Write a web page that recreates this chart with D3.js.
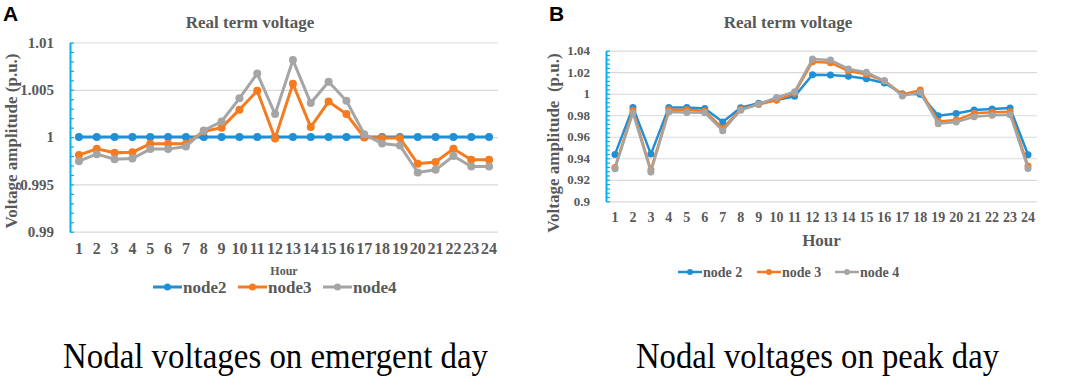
<!DOCTYPE html>
<html>
<head>
<meta charset="utf-8">
<script src="https://cdn.jsdelivr.net/npm/d3@7"></script>
<style>
  body { margin: 0; background: #fff; }
  svg { display: block; }
</style>
</head>
<body>
<svg id="chart" width="1065" height="387"></svg>
<script>
// hours on the x axis
let hours = d3.range(1, 25)

// emergent day (panel A)
let emergentNode2 = [1, 1, 1, 1, 1, 1, 1, 1, 1, 1, 1, 1, 1, 1, 1, 1, 1, 1, 1, 1, 1, 1, 1, 1]
let emergentNode3 = [0.9981, 0.99876, 0.99834, 0.99841, 0.99929, 0.9993, 0.9993, 1.0006, 1.001, 1.0029, 1.0049, 0.99985,
  1.00563, 1.00106, 1.00376, 1.00243, 0.99996, 0.9999, 0.9999, 0.99718, 0.99736, 0.99876, 0.9976, 0.9976]
let emergentNode4 = [0.99746, 0.9982, 0.99767, 0.99774, 0.99873, 0.99873, 0.999, 1.0007, 1.00165, 1.0041, 1.00672, 1.00243,
  1.00814, 1.0036, 1.00585, 1.00384, 1.0003, 0.99932, 0.99911, 0.99626, 0.99654, 0.998, 0.9969, 0.9969]

// peak day (panel B)
let peakNode2 = [0.9436, 0.9873, 0.9439, 0.9873, 0.9873, 0.9862, 0.9737, 0.987, 0.9911, 0.9941, 0.9976, 1.0176,
  1.0175, 1.0162, 1.014, 1.0100, 1.0000, 0.9994, 0.9796, 0.9817, 0.9849, 0.9859, 0.9867, 0.9433]
let peakNode3 = [0.9315, 0.9845, 0.929, 0.9852, 0.985, 0.9839, 0.9678, 0.9855, 0.990, 0.9941, 1.0004, 1.0298,
  1.0289, 1.0211, 1.018, 1.0121, 0.9994, 1.0034, 0.9743, 0.9755, 0.9818, 0.9827, 0.9833, 0.9328]
let peakNode4 = [0.9302, 0.982, 0.9272, 0.983, 0.9825, 0.9823, 0.9656, 0.9846, 0.9905, 0.9966, 1.0019, 1.0323,
  1.0313, 1.023, 1.0199, 1.0121, 0.9979, 1.0013, 0.9721, 0.9737, 0.9786, 0.9799, 0.9805, 0.9306]

// y ticks
let yTicksA = [0.99, 0.995, 1, 1.005, 1.01]
let yLabelsA = ['0.99', '0.995', '1', '1.005', '1.01']
let yTicksB = [0.9, 0.92, 0.94, 0.96, 0.98, 1, 1.02, 1.04]
let yLabelsB = ['0.9', '0.92', '0.94', '0.96', '0.98', '1', '1.02', '1.04']

let seriesNames = ['node2', 'node3', 'node4']
let seriesColors = ['#1f8fd6', '#f47b20', '#a5a5a5']

let serif = '"Liberation Serif"'
let sans = '"Liberation Sans"'

let svg = d3.select('#chart')

function drawPanel(p) {
  let g = svg.append('g')

  let x = d3.scaleBand().domain(hours).range([p.left, p.right]).padding(0)
  let y = d3.scaleLinear().domain(p.domain).range([p.bottom, p.top])

  // grid lines
  g.append('g')
    .attr('transform', 'translate(' + p.left + ',0)')
    .call(d3.axisRight(y).tickValues(p.ticks).tickSize(p.right - p.left).tickFormat(''))
    .call(s => s.select('.domain').remove())
    .call(s => s.selectAll('line').attr('stroke', '#d9d9d9').attr('stroke-width', 1.2))

  // minor ticks + axis line
  let minor = d3.range(0, Math.round((p.domain[1] - p.domain[0]) / p.minorStep) + 1)
    .map(i => p.domain[0] + i * p.minorStep)
  g.append('g')
    .attr('transform', 'translate(' + p.left + ',0)')
    .call(d3.axisRight(y).tickValues(minor).tickSize(4).tickSizeOuter(0).tickFormat(''))
    .call(s => s.select('.domain').attr('stroke', '#00b0f0').attr('stroke-width', 2))
    .call(s => s.selectAll('line').attr('stroke', '#00b0f0').attr('stroke-width', 1.2))

  // y labels
  g.append('g')
    .attr('transform', 'translate(' + (p.left - 13) + ',0)')
    .call(d3.axisLeft(y).tickValues(p.ticks).tickSize(0).tickFormat((d, i) => p.labels[i]))
    .call(s => s.select('.domain').remove())
    .call(s => s.selectAll('text')
      .style('font-family', serif)
      .style('font-weight', 'bold')
      .style('font-size', p.tickFont + 'px')
      .attr('fill', '#595959'))

  // x labels
  g.append('g')
    .attr('transform', 'translate(0,' + p.bottom + ')')
    .call(d3.axisBottom(x).tickSize(0).tickPadding(p.xPad))
    .call(s => s.select('.domain').remove())
    .call(s => s.selectAll('text')
      .style('font-family', serif)
      .style('font-weight', 'bold')
      .style('font-size', (p.tickFont + 1) + 'px')
      .attr('fill', '#595959'))

  // series
  let line = d3.line().x((d, i) => x(hours[i]) + x.bandwidth() / 2).y(d => y(d))
  p.series.forEach((vals, k) => {
    g.append('path')
      .datum(vals)
      .attr('fill', 'none')
      .attr('stroke', seriesColors[k])
      .attr('stroke-width', p.lineW)
      .attr('d', line)
    g.selectAll(null)
      .data(vals)
      .enter()
      .append('circle')
      .attr('cx', (d, i) => x(hours[i]) + x.bandwidth() / 2)
      .attr('cy', d => y(d))
      .attr('r', p.r)
      .attr('fill', seriesColors[k])
  })

  // title
  g.append('text')
    .attr('x', p.titleX)
    .attr('y', 28)
    .attr('text-anchor', 'middle')
    .style('font-family', serif)
    .style('font-weight', 'bold')
    .style('font-size', '17px')
    .attr('fill', '#595959')
    .text('Real term voltage')

  // y axis title
  g.append('text')
    .attr('transform', 'translate(' + p.yTitleX + ',' + p.yTitleY + ') rotate(-90)')
    .attr('text-anchor', 'middle')
    .style('font-family', serif)
    .style('font-weight', 'bold')
    .style('font-size', p.yTitleFont + 'px')
    .style('white-space', 'pre')
    .attr('fill', '#595959')
    .text(p.yTitle)

  // x axis title
  g.append('text')
    .attr('x', (p.left + p.right) / 2)
    .attr('y', p.hourY)
    .attr('text-anchor', 'middle')
    .style('font-family', serif)
    .style('font-weight', 'bold')
    .style('font-size', p.hourFont + 'px')
    .attr('fill', '#595959')
    .text('Hour')

  // legend
  p.legendX.forEach((lx, k) => {
    g.append('line')
      .attr('x1', lx).attr('x2', lx + p.legendLine)
      .attr('y1', p.legendY).attr('y2', p.legendY)
      .attr('stroke', seriesColors[k]).attr('stroke-width', p.lineW)
    g.append('circle')
      .attr('cx', lx + p.legendLine / 2).attr('cy', p.legendY)
      .attr('r', p.r - 0.5).attr('fill', seriesColors[k])
    g.append('text')
      .attr('x', lx + p.legendLine + 1)
      .attr('y', p.legendY)
      .attr('dy', '0.33em')
      .style('font-family', serif)
      .style('font-weight', 'bold')
      .style('font-size', p.legendFont + 'px')
      .attr('fill', '#595959')
      .text(p.legendNames[k])
  })

  // panel letter
  g.append('text')
    .attr('x', p.letterX)
    .attr('y', 21)
    .style('font-family', sans)
    .style('font-weight', 'bold')
    .style('font-size', '21px')
    .attr('fill', '#000')
    .text(p.letter)

  // caption
  g.append('text')
    .attr('x', p.capX)
    .attr('y', 368)
    .style('font-family', serif)
    .style('font-size', '35px')
    .attr('fill', '#000')
    .attr('textLength', p.capW)
    .attr('lengthAdjust', 'spacingAndGlyphs')
    .text(p.caption)
}

drawPanel({
  left: 70, right: 498, top: 42.5, bottom: 231.7,
  domain: [0.99, 1.01], ticks: yTicksA, labels: yLabelsA, minorStep: 0.001,
  tickFont: 15, xPad: 11, lineW: 3, r: 4,
  series: [emergentNode2, emergentNode3, emergentNode4],
  titleX: 250, yTitle: 'Voltage amplitude (p.u.)', yTitleX: 17, yTitleY: 141, yTitleFont: 17,
  hourY: 275, hourFont: 12,
  legendX: [153, 238, 323], legendLine: 29, legendY: 287, legendFont: 17,
  legendNames: seriesNames,
  letter: 'A', letterX: 3,
  caption: 'Nodal voltages on emergent day', capX: 63, capW: 425
})

drawPanel({
  left: 606, right: 1037, top: 50.7, bottom: 201.3,
  domain: [0.9, 1.04], ticks: yTicksB, labels: yLabelsB, minorStep: 0.004,
  tickFont: 13, xPad: 11, lineW: 2.5, r: 3.5,
  series: [peakNode2, peakNode3, peakNode4],
  titleX: 788, yTitle: 'Voltage amplitude  (p.u.)', yTitleX: 559, yTitleY: 143, yTitleFont: 17,
  hourY: 246, hourFont: 17,
  legendX: [678, 757, 835], legendLine: 24, legendY: 272, legendFont: 14,
  legendNames: ['node 2', 'node 3', 'node 4'],
  letter: 'B', letterX: 549,
  caption: 'Nodal voltages on peak day', capX: 636, capW: 363
})
</script>
</body>
</html>
